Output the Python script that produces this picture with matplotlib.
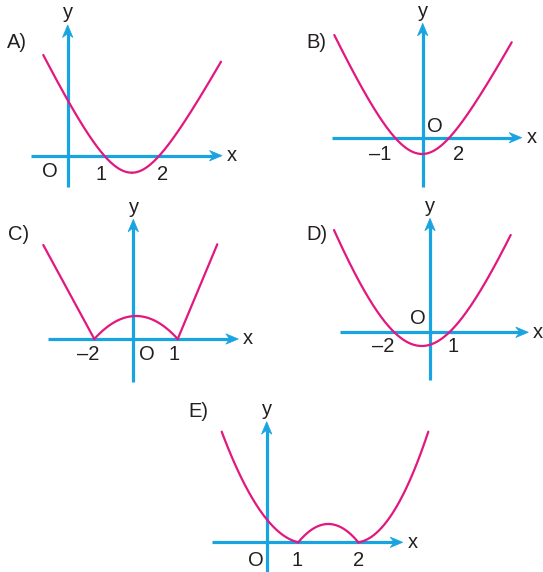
import numpy as np
import matplotlib
matplotlib.use("Agg")
import matplotlib.pyplot as plt
from matplotlib.patches import Polygon

W, H = 543, 572
DPI = 100
BLUE = "#17A4E0"
PINK = "#E2177F"
TXT = "#231F20"
FONT = "Liberation Sans"
FS = 14.5

# ---------------- data (panel-local units, y axis at u=0, x axis at v=0) -------------
# Panel labels and tick labels
panel_names = ["A)", "B)", "C)", "D)", "E)"]
tick_A = ["1", "2"]
tick_B = ["\u20131", "2"]
tick_C = ["\u20132", "1"]
tick_D = ["\u20132", "1"]
tick_E = ["1", "2"]

# U-shaped curves: roots, depth of vertex below axis, left end (u, v), right end (u, v)
roots_A = [36.6, 91.6]
depth_A = 17.0
ends_A = [(-24.4, 100.7), (153.3, 94.0)]

roots_B = [-27.7, 26.6]
depth_B = 16.3
ends_B = [(-88.4, 102.7), (89.0, 95.4)]

roots_D = [-35.7, 19.3]
depth_D = 13.7
ends_D = [(-96.0, 102.3), (80.7, 97.3)]

# |f| shaped curves: roots, hump height, outer arm end points
roots_C = [-39.0, 44.4]
hump_C = 23.0
ends_C = [(-90.0, 94.0), (84.0, 94.7)]

roots_E = [31.6, 91.6]
hump_E = 18.3
ends_E = [(-45.0, 110.6), (161.6, 110.6)]
mids_E = [(0.0, 23.0), (129.9, 35.7)]

# ---------------- layout (pixel positions) ----------------
# origin in figure pixels (from top-left), axis extents in local units
layout = {
    "A": dict(o=(67.7, 155.7), xa=(-36.7, 154.3), ya=(-31.3, 130.7), lab=(17, 42)),
    "B": dict(o=(422.7, 137.7), xa=(-91.0, 99.0), ya=(-49.0, 114.4), lab=(316.7, 43)),
    "C": dict(o=(133.3, 339.0), xa=(-85.0, 105.0), ya=(-42.7, 119.7), lab=(18.3, 235)),
    "D": dict(o=(430.0, 332.3), xa=(-90.0, 98.3), ya=(-47.7, 114.0), lab=(316.7, 235)),
    "E": dict(o=(266.7, 542.3), xa=(-55.0, 136.0), ya=(-30.0, 120.6), lab=(198.3, 411.7)),
}

fig = plt.figure(figsize=(W / DPI, H / DPI), dpi=DPI)
fig.patch.set_facecolor("white")

BOX_U = (-120, 190)
BOX_V = (-60, 160)


def make_axes(o):
    ox, oy = o
    left = (ox + BOX_U[0]) / W
    bottom = (H - (oy - BOX_V[0])) / H
    width = (BOX_U[1] - BOX_U[0]) / W
    height = (BOX_V[1] - BOX_V[0]) / H
    ax = fig.add_axes([left, bottom, width, height])
    ax.set_xlim(*BOX_U)
    ax.set_ylim(*BOX_V)
    ax.axis("off")
    ax.patch.set_visible(False)
    return ax


def arrow_axis(ax, a, b, horizontal=True):
    L, Wd, notch = 12.5, 5.2, 8.5
    if horizontal:
        ax.plot([a, b - notch + 0.5], [0, 0], color=BLUE, lw=2.3, solid_capstyle="butt")
        pts = [(b, 0), (b - L, Wd), (b - notch, 0), (b - L, -Wd)]
    else:
        ax.plot([0, 0], [a, b - notch + 0.5], color=BLUE, lw=2.3, solid_capstyle="butt")
        pts = [(0, b), (Wd, b - L), (0, b - notch), (-Wd, b - L)]
    ax.add_patch(Polygon(pts, closed=True, facecolor=BLUE, edgecolor=BLUE, lw=0.5))


def draw_axes(ax, lay):
    arrow_axis(ax, *lay["xa"], horizontal=True)
    arrow_axis(ax, *lay["ya"], horizontal=False)
    ax.text(lay["xa"][1] + 10, 0, "x", fontsize=FS, family=FONT, color=TXT,
            ha="center", va="center")
    ax.text(0.5, lay["ya"][1] + 12, "y", fontsize=FS, family=FONT, color=TXT,
            ha="center", va="center")


def txt(ax, u, v, s):
    ax.text(u, v, s, fontsize=FS, family=FONT, color=TXT, ha="center", va="center")


def solve_w(r, ue, target):
    g = lambda u, w: np.sqrt(1 + (u / w) ** 2) - 1
    lo, hi = 0.5, 2000.0
    for _ in range(80):
        mid = np.sqrt(lo * hi)
        ratio = g(ue, mid) / g(r, mid)
        if ratio < target:
            lo = mid
        else:
            hi = mid
    w = np.sqrt(lo * hi)
    return w, g


def u_curve(ax, roots, depth, ends):
    c = 0.5 * (roots[0] + roots[1])
    r = 0.5 * (roots[1] - roots[0])
    for side, (ue, ve) in zip((-1, 1), ends):
        dist = abs(ue - c)
        w, g = solve_w(r, dist, (ve + depth) / depth)
        h = depth / g(r, w)
        u = np.linspace(0, dist, 200)
        v = -depth + h * g(u, w)
        ax.plot(c + side * u, v, color=PINK, lw=1.6, solid_capstyle="round")


def hump(ax, roots, height):
    c = 0.5 * (roots[0] + roots[1])
    r = 0.5 * (roots[1] - roots[0])
    u = np.linspace(-r, r, 200)
    ax.plot(c + u, height * (1 - (u / r) ** 2), color=PINK, lw=1.6)


def straight_arms(ax, roots, ends):
    for rt, (ue, ve) in zip(roots, ends):
        ax.plot([rt, ue], [0, ve], color=PINK, lw=1.6, solid_capstyle="round")


def quad_arms(ax, roots, ends, mids):
    for side, rt, (ue, ve), (um, vm) in zip((-1, 1), roots, ends, mids):
        d1, d2 = abs(um - rt), abs(ue - rt)
        A = np.array([[d1, d1 ** 2], [d2, d2 ** 2]])
        a, b = np.linalg.solve(A, np.array([vm, ve]))
        s = np.linspace(0, d2, 200)
        ax.plot(rt + side * s, a * s + b * s ** 2, color=PINK, lw=1.6,
                solid_capstyle="round")


def panel_label(lay, s):
    fig.text(lay["lab"][0] / W, 1 - lay["lab"][1] / H, s, fontsize=FS, family=FONT,
             color=TXT, ha="center", va="center")


# ---- A ----
la = layout["A"]
ax = make_axes(la["o"])
draw_axes(ax, la)
u_curve(ax, roots_A, depth_A, ends_A)
txt(ax, -17.7, -16.0, "O")
txt(ax, 33.3, -18.3, tick_A[0])
txt(ax, 95.3, -18.3, tick_A[1])
panel_label(la, panel_names[0])

# ---- B ----
lb = layout["B"]
ax = make_axes(lb["o"])
draw_axes(ax, lb)
u_curve(ax, roots_B, depth_B, ends_B)
txt(ax, 12.3, 11.0, "O")
txt(ax, -42.7, -17.3, tick_B[0])
txt(ax, 35.6, -17.3, tick_B[1])
panel_label(lb, panel_names[1])

# ---- C ----
lc = layout["C"]
ax = make_axes(lc["o"])
draw_axes(ax, lc)
hump(ax, roots_C, hump_C)
straight_arms(ax, roots_C, ends_C)
txt(ax, -45.0, -15.3, tick_C[0])
txt(ax, 13.4, -15.3, "O")
txt(ax, 40.7, -15.3, tick_C[1])
panel_label(lc, panel_names[2])

# ---- D ----
ld = layout["D"]
ax = make_axes(ld["o"])
draw_axes(ax, ld)
u_curve(ax, roots_D, depth_D, ends_D)
txt(ax, -11.7, 14.0, "O")
txt(ax, -46.7, -14.5, tick_D[0])
txt(ax, 22.7, -14.7, tick_D[1])
panel_label(ld, panel_names[3])

# ---- E ----
le = layout["E"]
ax = make_axes(le["o"])
draw_axes(ax, le)
hump(ax, roots_E, hump_E)
quad_arms(ax, roots_E, ends_E, mids_E)
txt(ax, -10.7, -17.7, "O")
txt(ax, 30.0, -17.7, tick_E[0])
txt(ax, 91.6, -17.7, tick_E[1])
panel_label(le, panel_names[4])

fig.savefig("out.png", dpi=DPI, facecolor="white")
